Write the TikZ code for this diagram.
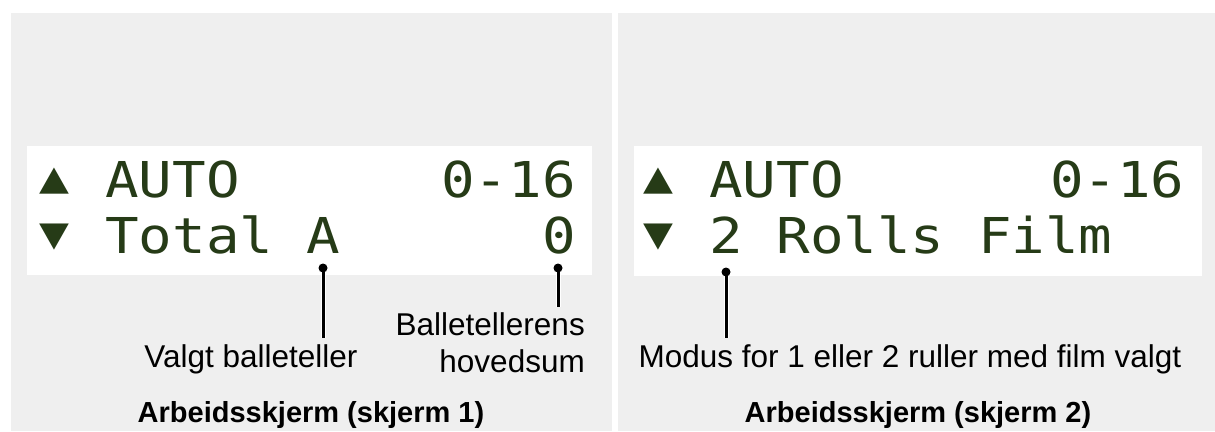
\documentclass[tikz,border=0pt]{standalone}
\usepackage{fontspec}
\setmainfont{Liberation Sans}
\newfontfamily\lcdfont[FakeStretch=1.13]{DejaVu Sans Mono}
\definecolor{panelgray}{HTML}{EFEFEF}
\definecolor{lcdgreen}{HTML}{263B17}
\newcommand{\lcdarrow}[1]{\makebox[33.6pt][c]{\raisebox{5pt}{\fontsize{44}{44}\selectfont #1}}}
\begin{document}
\begin{tikzpicture}[x=1pt,y=-1pt,
  lcdtext/.style={anchor=base west, inner sep=0pt, outer sep=0pt, text=lcdgreen,
    font=\lcdfont\fontsize{49.4}{50}\selectfont},
  dotmark/.style={circle, fill=black, draw=none, inner sep=0pt, minimum size=9pt},
  leader/.style={line width=3pt, black, preaction={draw=white, line width=5pt}},
  label/.style={inner sep=0pt, font=\fontsize{31.5}{37}\selectfont, text=black},
  caption/.style={inner sep=0pt, anchor=base, font=\bfseries\fontsize{29}{34}\selectfont, text=black}]
\useasboundingbox (0,0) rectangle (1215,431);
\fill[white] (0,0) rectangle (1215,431);
% panels
\fill[panelgray] (11,13) rectangle (612,431);
\fill[panelgray] (618,13) rectangle (1215,431);
% LCD windows
\fill[white] (27,146) rectangle (592,275);
\fill[white] (634,146) rectangle (1202,276);
% LCD text, screen 1
\node[lcdtext] (s1r1a) at (38,197) {\lcdarrow{▲} AUTO};
\node[lcdtext] (s1r1b) at (441.2,197) {0-16};
\node[lcdtext] (s1r2a) at (38,253) {\lcdarrow{▼} Total A};
\node[lcdtext] (s1r2b) at (542,253) {0};
% LCD text, screen 2
\node[lcdtext] (s2r1a) at (642,197) {\lcdarrow{▲} AUTO};
\node[lcdtext] (s2r1b) at (1050,197) {0-16};
\node[lcdtext] (s2r2a) at (642,253) {\lcdarrow{▼} 2 Rolls Film};
% markers and leaders
\coordinate (eA) at (323,338);
\coordinate (eZ) at (558,307);
\coordinate (eM) at (726,338);
\draw[leader] (323,268) coordinate (dAc) -- (eA);
\draw[leader] (558,268) coordinate (dZc) -- (eZ);
\draw[leader] (726,272) coordinate (dMc) -- (eM);
\node[dotmark] (dA) at (dAc) {};
\node[dotmark] (dZ) at (dZc) {};
\node[dotmark] (dM) at (dMc) {};
% labels
\node[label, anchor=base] (lA) at (251,367) {Valgt balleteller};
\node[label, anchor=base east, align=right] (lZ) at (585,372) {Balletellerens\\hovedsum};
\node[label, anchor=base] (lM) at (910,367) {Modus for 1 eller 2 ruller med film valgt};
% captions
\node[caption] (c1) at (311,422) {Arbeidsskjerm (skjerm 1)};
\node[caption] (c2) at (918,422) {Arbeidsskjerm (skjerm 2)};
\end{tikzpicture}
\end{document}
